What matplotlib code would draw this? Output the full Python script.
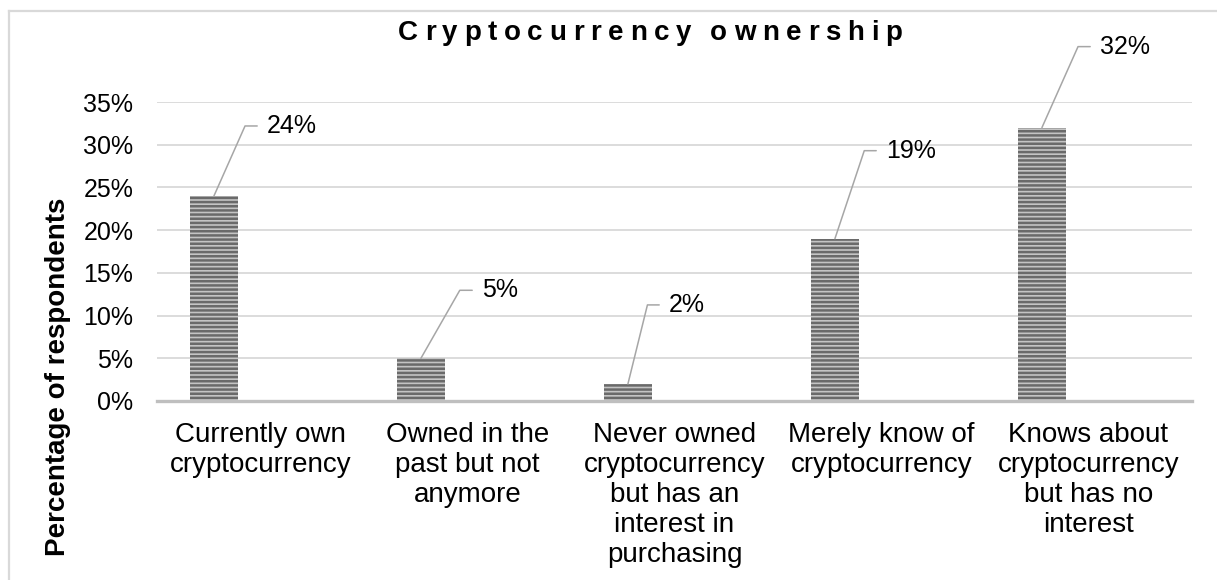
import math
import numpy as np
import matplotlib
matplotlib.use("Agg")
import matplotlib.pyplot as plt
from matplotlib.lines import Line2D

plt.rcParams['font.family'] = ['Liberation Sans', 'DejaVu Sans']
plt.rcParams['hatch.linewidth'] = 1.8

# survey answers
categories = [
    "Currently own\ncryptocurrency",
    "Owned in the\npast but not\nanymore",
    "Never owned\ncryptocurrency\nbut has an\ninterest in\npurchasing",
    "Merely know of\ncryptocurrency",
    "Knows about\ncryptocurrency\nbut has no\ninterest",
]
shares = [0.24, 0.05, 0.02, 0.19, 0.32]
yticks = [0, 0.05, 0.10, 0.15, 0.20, 0.25, 0.30, 0.35]

# leader line elbows, pixels from the bar top (x right, y up)
elbows = [(32, 72), (40, 70), (20, 81), (30, 90), (37, 83)]

W, H = 1217, 580
fig = plt.figure(figsize=(W / 100, H / 100), dpi=100)
ax = fig.add_axes([157 / W, 179 / H, (1192 - 157) / W, (401 - 102) / H])

x = np.arange(len(categories))
bars = ax.bar(x - 0.225, shares, width=0.232, color='#c4c4c4',
              edgecolor='#6a6a6a', linewidth=0, hatch='----', zorder=3)

ax.set_xlim(-0.5, len(categories) - 0.5)
ax.set_ylim(0, 0.35)
ax.set_yticks(yticks)
ax.set_yticklabels([f"{v * 100:.0f}%" for v in yticks], fontsize=18)
ax.set_xticks(x)
ax.set_xticklabels(categories, fontsize=20, linespacing=1.2)
ax.tick_params(length=0)
ax.tick_params(axis='y', pad=17)
ax.tick_params(axis='x', pad=15)

ax.grid(axis='y', color='#d9d9d9', linewidth=1.3, zorder=0)
for s in ['top', 'right', 'left']:
    ax.spines[s].set_visible(False)
ax.spines['bottom'].set_color('#bfbfbf')
ax.spines['bottom'].set_linewidth(2.4)
ax.spines['bottom'].set_zorder(4)

# value labels with elbow leader lines
for rect, v, (dx, dy) in zip(bars, shares, elbows):
    xc = rect.get_x() + rect.get_width() / 2
    ang = math.degrees(math.atan2(dy, dx))
    ax.annotate(f"{v * 100:.0f}%", xy=(xc, v), xytext=(dx + 21, dy - 2),
                textcoords='offset pixels', ha='left', va='center',
                fontsize=18, annotation_clip=False,
                arrowprops=dict(arrowstyle='-', color='#a6a6a6', lw=1.1,
                                shrinkA=7, shrinkB=0, patchA=None,
                                relpos=(0, 0.5),
                                connectionstyle=f"angle,angleA=0,angleB={ang},rad=0"))

fig.text(58 / W, 1 - 377 / H, "Percentage of respondents", rotation=90,
         ha='center', va='center', fontsize=20, fontweight='bold')

# letter-spaced title
title = "Cryptocurrency ownership"
fig.canvas.draw()
renderer = fig.canvas.get_renderer()
tsize = 20
widths = []
for ch in title:
    if ch == ' ':
        widths.append(0.2 * tsize * 100 / 72)
        continue
    t = fig.text(0, 0, ch, fontsize=tsize, fontweight='bold')
    widths.append(t.get_window_extent(renderer).width)
    t.remove()
left, right = 398, 902
gap = (right - left - sum(widths)) / (len(title) - 1)
xpos = left
for ch, w in zip(title, widths):
    if ch != ' ':
        fig.text(xpos / W, 1 - 40 / H, ch, fontsize=tsize, fontweight='bold',
                 ha='left', va='baseline')
    xpos += w + gap

# outer chart frame
fig.add_artist(Line2D([8.5 / W, 1], [1 - 10.5 / H] * 2, transform=fig.transFigure,
                      color='#d9d9d9', linewidth=1.6))
fig.add_artist(Line2D([8.5 / W] * 2, [0, 1 - 10.5 / H], transform=fig.transFigure,
                      color='#d9d9d9', linewidth=1.6))

fig.savefig("out.png", dpi=100, facecolor='white')
